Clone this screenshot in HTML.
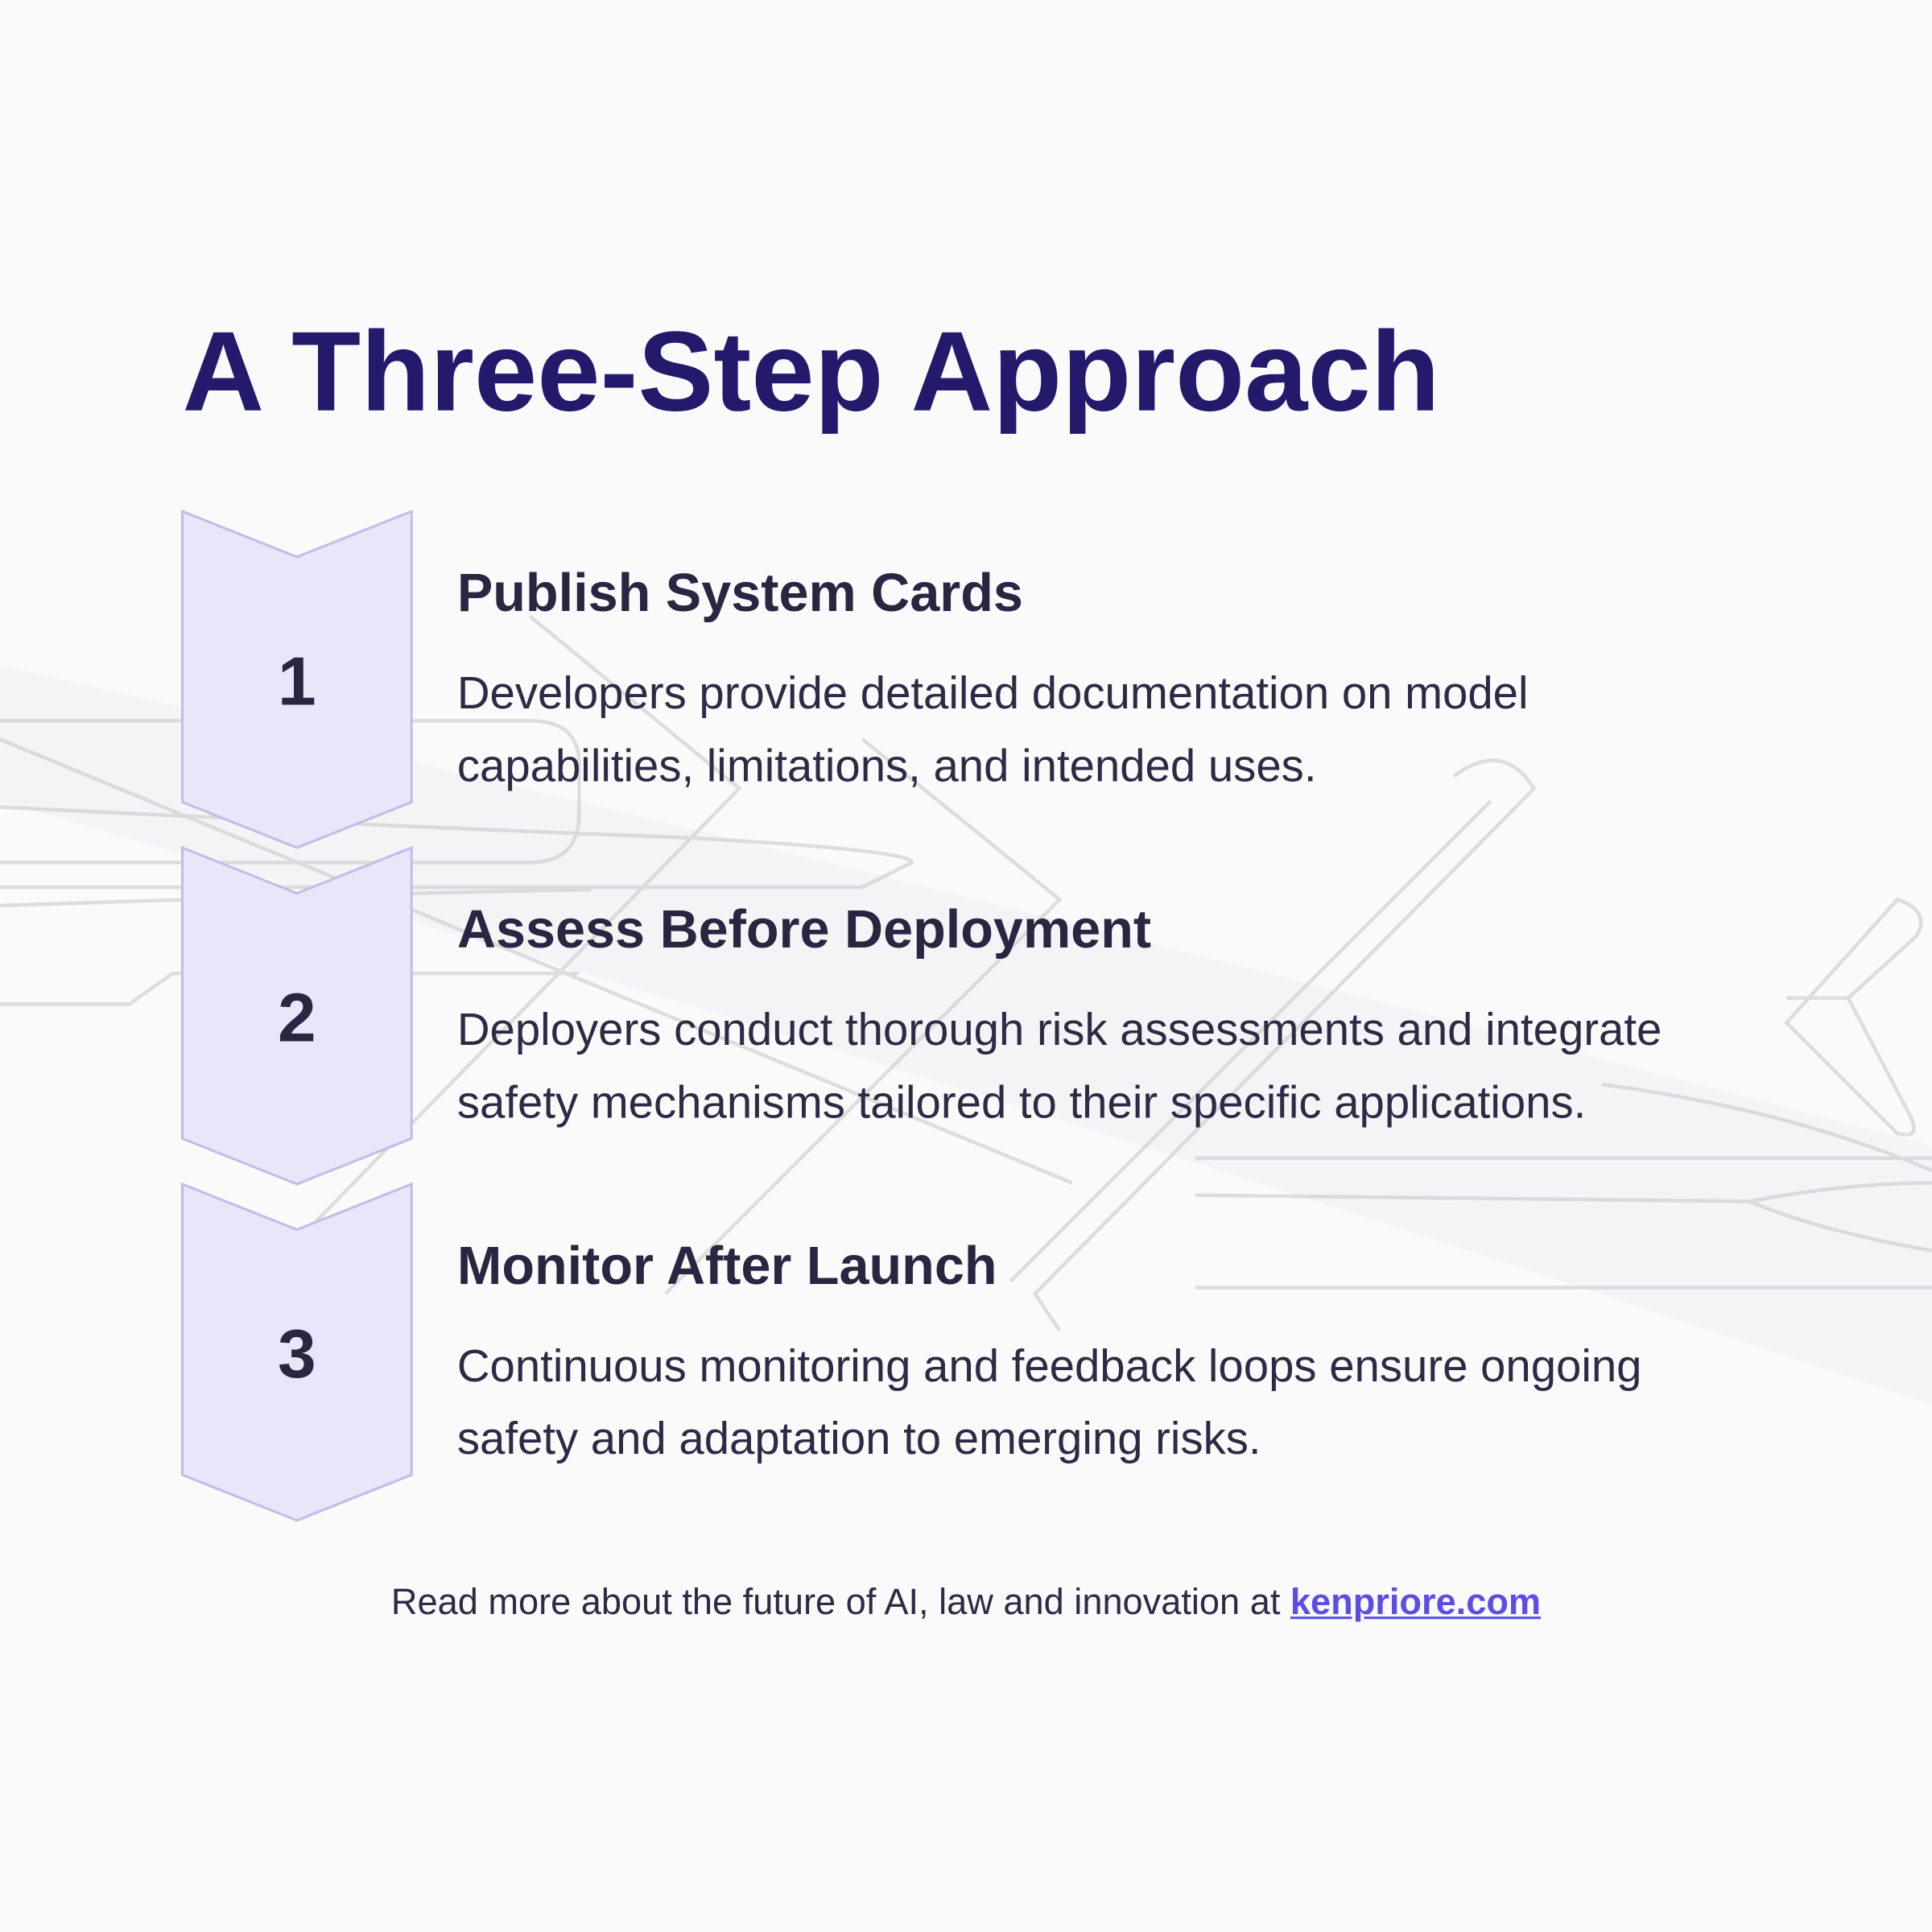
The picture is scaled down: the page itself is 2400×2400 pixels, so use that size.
<!DOCTYPE html>
<html><head><meta charset="utf-8"><style>
html,body{margin:0;padding:0;background:#fafafa;}
#s{position:absolute;left:0;top:0;width:1568px;height:1568px;transform:scale(1.530612);transform-origin:0 0;background:#fafafa;overflow:hidden;font-family:"Liberation Sans",sans-serif;}
.t{position:absolute;white-space:nowrap;}
h1{position:absolute;left:148px;top:250px;margin:0;font-size:92px;font-weight:700;color:#241a6c;letter-spacing:0px;white-space:nowrap;}
.h{font-size:43.5px;font-weight:700;color:#2a2540;letter-spacing:0px;}
.b{font-size:36.8px;color:#2d2a45;line-height:59px;}
.n{position:absolute;width:186px;text-align:center;font-size:56px;font-weight:700;color:#2a2540;}
</style></head><body><div id="s">
<svg width="1568" height="1568" style="position:absolute;left:0;top:0">
<path d="M0 540 Q700 700 1568 930 L1568 1140 Q800 880 0 650Z" fill="#f2f2f5" opacity="0.8"/>
<g fill="none" stroke="#d6d6d6" stroke-width="3" opacity="0.8">
<path d="M0 585 L430 585 Q470 585 470 620 L470 660 Q470 700 430 700 L0 700"/>
<path d="M0 655 Q300 670 560 680 Q740 690 740 700 L700 720 L0 720"/>
<path d="M0 735 Q300 725 480 722"/>
<path d="M0 815 L105 815 L140 790 L470 790"/>
<path d="M430 500 L600 640 L160 1090"/>
<path d="M700 600 L860 730 L540 1050"/>
<path d="M1180 630 Q1220 600 1245 640 L840 1050 L860 1080"/>
<path d="M1210 650 L820 1040"/>
<path d="M1540 730 Q1568 740 1555 760 L1500 810 L1550 905 Q1560 925 1540 920 L1450 830 Z"/>
<path d="M1450 810 L1500 810"/>
<path d="M970 970 L1420 975 Q1500 960 1568 960"/>
<path d="M970 940 L1568 940"/>
<path d="M970 1045 L1568 1045"/>
<path d="M1420 975 Q1480 1000 1568 1015"/>
<path d="M1300 880 Q1450 900 1568 950"/>
<path d="M0 600 L870 960"/>
</g>
</svg>
<h1>A Three-Step Approach</h1>
<svg width="1568" height="1568" style="position:absolute;left:0;top:0">
<g fill="#e9e6fa" stroke="#c4bce6" stroke-width="2">
<path d="M148 415 L241 452 L334 415 L334 651 L241 688 L148 651Z"/>
<path d="M148 688 L241 725 L334 688 L334 924 L241 961 L148 924Z"/>
<path d="M148 961 L241 998 L334 961 L334 1197 L241 1234 L148 1197Z"/>
</g></svg>
<div class="n" style="left:148px;top:520px">1</div>
<div class="n" style="left:148px;top:793px">2</div>
<div class="n" style="left:148px;top:1066px">3</div>
<div class="t h" style="left:371px;top:458px">Publish System Cards</div>
<div class="t b" style="left:371px;top:533px">Developers provide detailed documentation on model<br>capabilities, limitations, and intended uses.</div>
<div class="t h" style="left:371px;top:731px">Assess Before Deployment</div>
<div class="t b" style="left:371px;top:806px">Deployers conduct thorough risk assessments and integrate<br>safety mechanisms tailored to their specific applications.</div>
<div class="t h" style="left:371px;top:1004px">Monitor After Launch</div>
<div class="t b" style="left:371px;top:1079px">Continuous monitoring and feedback loops ensure ongoing<br>safety and adaptation to emerging risks.</div>
<div class="t" style="left:0;width:1568px;text-align:center;top:1284px;font-size:29.5px;color:#2d2a45">Read more about the future of AI, law and innovation at <span style="color:#5b4ee6;font-weight:700;text-decoration:underline">kenpriore.com</span></div>
</div></body></html>
